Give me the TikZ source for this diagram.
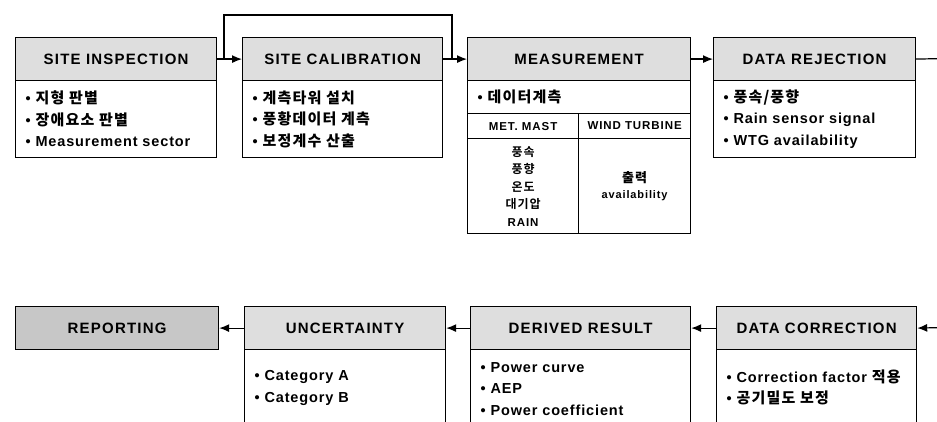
\documentclass[tikz,border=0pt]{standalone}
\usepackage{fontspec}
\setmainfont{Liberation Sans}[LetterSpace=8]
\newfontfamily\bodyfont{Liberation Sans}[LetterSpace=6]
\newfontfamily\kr{Noto Sans CJK KR Bold}[LetterSpace=8]
\usetikzlibrary{arrows.meta}
\tikzset{every picture/.append style={x=1pt, y=-1pt}}
\tikzset{
    hdr/.style={draw, line width=1.2pt, fill=black!13, minimum height=43pt,
    	anchor=north west, inner sep=0pt, font=\fontsize{15}{18}\selectfont\bfseries},
    bodybox/.style={draw, line width=1.2pt, anchor=north west, inner ysep=0pt,
    	inner xsep=10pt, text width=#1, align=left,
    	font=\bodyfont\fontsize{14.5}{21.5}\selectfont\bfseries},
    subbox/.style={draw, line width=1.2pt, anchor=north west, inner sep=0pt,
    	align=center, font=\fontsize{11.5}{17}\selectfont\bfseries},
    flow/.style={line width=1.2pt, -{Latex[length=10pt,width=8pt]}},
    wire/.style={line width=1.2pt}
}
\newcommand\ko[1]{{\kr\fontsize{15}{21.5}\selectfont #1}}

\begin{document}
\begin{tikzpicture}
	\useasboundingbox (0,0) rectangle (937,422);
	\clip (0,0) rectangle (937,422);
	% top row
	\node [hdr, minimum width=201pt] (ins) at (15,37) {SITE INSPECTION};
	\node [bodybox=181pt, minimum height=77pt] (insB) at (15,80)
		{• \ko{지형 판별}\\• \ko{장애요소 판별}\\• Measurement sector};
	\node [hdr, minimum width=200pt] (cal) at (242,37) {SITE CALIBRATION};
	\node [bodybox=180pt, minimum height=77pt] (calB) at (242,80)
		{• \ko{계측타워 설치}\\• \ko{풍황데이터 계측}\\• \ko{보정계수 산출}};
	\node [hdr, minimum width=223pt] (meas) at (467,37) {MEASUREMENT};
	\node [bodybox=203pt, minimum height=33pt] (measB) at (467,80)
		{• \ko{데이터계측}};
	\node [subbox, minimum width=111pt, minimum height=25pt] (mast) at (467,113)
		{MET. MAST};
	\node [subbox, minimum width=112pt, minimum height=25pt] (wtg) at (578,113)
		{WIND TURBINE};
	\node [subbox, minimum width=111pt, minimum height=95pt,
		font=\kr\fontsize{12}{17.5}\selectfont] (mastB) at (467,138)
		{풍속\\풍향\\온도\\대기압\\\rmfamily\bfseries\fontsize{11.5}{17.5}\selectfont RAIN};
	\node [subbox, minimum width=112pt, minimum height=95pt,
		font=\fontsize{11}{16}\selectfont\bfseries] (wtgB) at (578,138)
		{\kr\fontsize{13}{16}\selectfont 출력\\availability};
	\node [hdr, minimum width=202pt] (rej) at (713,37) {DATA REJECTION};
	\node [bodybox=182pt, minimum height=77pt] (rejB) at (713,80)
		{• \ko{풍속/풍향}\\• Rain sensor signal\\• WTG availability};
	% bottom row
	\node [hdr, minimum width=203pt, fill=black!22] (rep) at (15,306) {REPORTING};
	\node [hdr, minimum width=201pt] (unc) at (244,306) {UNCERTAINTY};
	\node [bodybox=181pt, minimum height=77pt] (uncB) at (244,349)
		{• Category A\\• Category B};
	\node [hdr, minimum width=220pt] (der) at (470,306) {DERIVED RESULT};
	\node [bodybox=200pt, minimum height=78pt] (derB) at (470,349)
		{• Power curve\\• AEP\\• Power coefficient};
	\node [hdr, minimum width=200pt] (cor) at (716,306) {DATA CORRECTION};
	\node [bodybox=180pt, minimum height=76pt] (corB) at (716,349)
		{• Correction factor \ko{적용}\\• \ko{공기밀도 보정}};
	% free ends and bypass corners
	\coordinate (byA) at (224,58.5);
	\coordinate (byT) at (300,15);
	\coordinate (byB) at (452,58.5);
	\coordinate (outR) at (945,58.5);
	\coordinate (inR) at (945,327.5);
	\draw [flow] (ins.east) -- (cal.west);
	\draw [wire] (byA) |- (byT) -| (byB);
	\draw [flow] (cal.east) -- (meas.west);
	\draw [flow] (meas.east) -- (rej.west);
	\draw [wire] (rej.east) -- (outR);
	\draw [flow] (inR) -- (cor.east);
	\draw [flow] (cor.west) -- (der.east);
	\draw [flow] (der.west) -- (unc.east);
	\draw [flow] (unc.west) -- (rep.east);
\end{tikzpicture}
\end{document}
